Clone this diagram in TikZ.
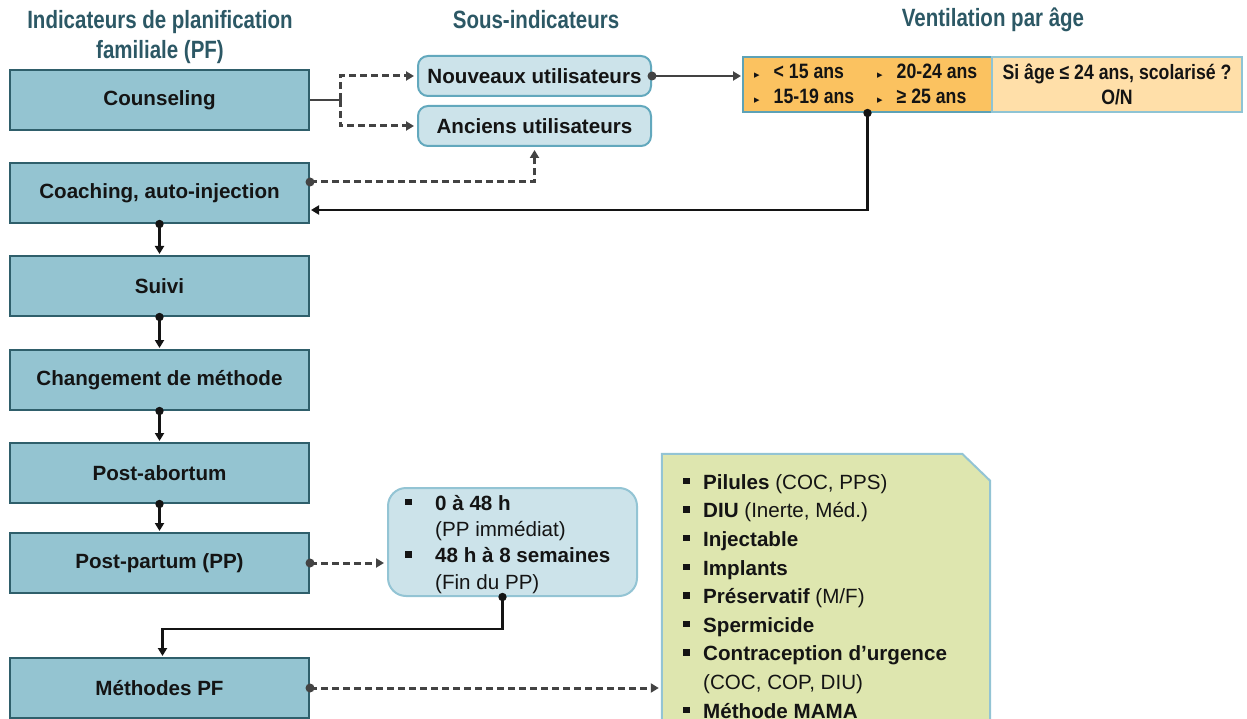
\documentclass[tikz,border=0pt]{standalone}
\usepackage{fontspec}
\setmainfont{Liberation Sans}
\newfontfamily\narrowfont{Liberation Sans}[FakeStretch=0.82]
\newfontfamily\agefont{Liberation Sans}[FakeStretch=0.85]
\newfontfamily\symfont{DejaVu Sans}
\usetikzlibrary{arrows.meta}

\definecolor{stepfill}{HTML}{94C4D1}
\definecolor{stepline}{HTML}{2F5F6B}
\definecolor{subfill}{HTML}{CCE3EA}
\definecolor{subline}{HTML}{62A8BD}
\definecolor{agefill}{HTML}{FBC260}
\definecolor{ageline}{HTML}{5DA2B6}
\definecolor{schoolfill}{HTML}{FFDFA9}
\definecolor{schoolline}{HTML}{8FC4D4}
\definecolor{methfill}{HTML}{DEE6AF}
\definecolor{methline}{HTML}{93C4D4}
\definecolor{headcol}{HTML}{2C5865}
\definecolor{linkgray}{HTML}{434343}
\definecolor{ink}{HTML}{141414}

\newcommand{\sqbullet}{\rule[5pt]{6.5pt}{6.5pt}}
\newcommand{\tribullet}{{\symfont\fontsize{11}{11}\selectfont ▸}}

\tikzset{
  header/.style={font={\narrowfont\bfseries\fontsize{25}{30}\selectfont}, text=headcol, align=center},
  stepbox/.style={draw=stepline, fill=stepfill, line width=2pt, minimum width=299pt,
    minimum height=60pt, inner sep=0pt, text=ink, font={\bfseries\fontsize{20.6}{24}\selectfont}},
  subbox/.style={draw=subline, fill=subfill, line width=2pt, rounded corners=10pt,
    minimum width=233pt, minimum height=40pt, inner sep=0pt, text=ink,
    font={\bfseries\fontsize{20.6}{24}\selectfont}},
  agetext/.style={inner sep=0pt, text=ink, font={\agefont\bfseries\fontsize{20.8}{25}\selectfont}},
  listtext/.style={inner sep=0pt, text=ink, align=left, font={\fontsize{20.6}{28.6}\selectfont}},
  dashlink/.style={draw=linkgray, line width=3pt, dash pattern=on 7pt off 4pt,
    -{Triangle[length=8pt,width=9pt]}, shorten >=3pt},
  solidlink/.style={draw=ink, line width=2.6pt, -{Triangle[length=8pt,width=9pt]}, shorten >=1pt},
  graylink/.style={draw=linkgray, line width=2.8pt, -{Triangle[length=8pt,width=9pt]}, shorten >=1pt},
}

\begin{document}
\begin{tikzpicture}[x=1pt,y=-1pt]
\useasboundingbox (0,0) rectangle (1247,719);
\clip (0,0) rectangle (1247,719);

% column headings
\node[header] (h1) at (160,37) {Indicateurs de planification\\familiale (PF)};
\node[header] (h2) at (536,20) {Sous-indicateurs};
\node[header] (h3) at (993,20) {Ventilation par âge};

% main indicator column
\node[stepbox] (couns) at (159.5,100) {Counseling};
\node[stepbox] (coach) at (159.5,193) {Coaching, auto-injection};
\node[stepbox] (suivi) at (159.5,286) {Suivi};
\node[stepbox] (chang) at (159.5,380) {Changement de méthode};
\node[stepbox] (abort) at (159.5,473) {Post-abortum};
\node[stepbox] (partum) at (159.5,563) {Post-partum (PP)};
\node[stepbox] (meth) at (159.5,688) {Méthodes PF};

% sub-indicators
\node[subbox] (nouv) at (534.5,76) {Nouveaux utilisateurs};
\node[subbox] (anc) at (534.5,126) {Anciens utilisateurs};

% age breakdown
\node[draw=ageline, fill=agefill, line width=2pt, minimum width=249pt, minimum height=55pt] (ages) at (867.5,84.5) {};
\node[draw=schoolline, fill=schoolfill, line width=2pt, minimum width=250pt, minimum height=55pt,
      agetext, align=center] (school) at (1117,84.5) {Si âge ≤ 24 ans, scolarisé ?\\O/N};
\node[agetext, anchor=base west] (a1) at (754,79) {\tribullet\hspace{14pt}< 15 ans};
\node[agetext, anchor=base west] (a2) at (754,104) {\tribullet\hspace{14pt}15-19 ans};
\node[agetext, anchor=base west] (a3) at (877,79) {\tribullet\hspace{14pt}20-24 ans};
\node[agetext, anchor=base west] (a4) at (877,104) {\tribullet\hspace{14pt}≥ 25 ans};

% post-partum periods
\node[draw=methline, fill=subfill, line width=2pt, rounded corners=18pt,
      minimum width=249pt, minimum height=108pt] (ppb) at (512.5,542) {};
\node[listtext, anchor=north west, font={\fontsize{20.6}{26.3}\selectfont}] (pptext) at (405,491.6)
  {\begin{tabular}{@{}l@{\hspace{23.5pt}}l@{}}
   \sqbullet & \textbf{0 à 48 h}\\
             & (PP immédiat)\\
   \sqbullet & \textbf{48 h à 8 semaines}\\
             & (Fin du PP)
   \end{tabular}};

% contraceptive methods: a box with its top right corner cut off
\node[minimum width=328pt, minimum height=290pt, inner sep=0pt] (methods) at (826,599) {};
\path[draw=methline, fill=methfill, line width=2pt]
  (methods.north west) -- ([xshift=-28pt]methods.north east)
  -- ([yshift=-27pt]methods.north east) -- (methods.south east)
  -- (methods.south west) -- cycle;
\node[listtext, anchor=north west] (mlist) at (683,469)
  {\begin{tabular}{@{}l@{\hspace{13.5pt}}l@{}}
   \sqbullet & \textbf{Pilules} (COC, PPS)\\
   \sqbullet & \textbf{DIU} (Inerte, Méd.)\\
   \sqbullet & \textbf{Injectable}\\
   \sqbullet & \textbf{Implants}\\
   \sqbullet & \textbf{Préservatif} (M/F)\\
   \sqbullet & \textbf{Spermicide}\\
   \sqbullet & \textbf{Contraception d’urgence}\\
             & (COC, COP, DIU)\\
   \sqbullet & \textbf{Méthode MAMA}
   \end{tabular}};

% counseling splits into new and former users
\coordinate (split) at (340,100);
\draw[draw=linkgray, line width=2.8pt] (couns.east) -- (split);
\draw[draw=linkgray, line width=2.8pt] ([yshift=5pt]split) -- ([yshift=-5pt]split);
\draw[dashlink] (split) |- (nouv.west);
\draw[dashlink] (split) |- (anc.west);

% coaching feeds former users
\draw[dashlink] ([yshift=11pt]coach.east) -| (anc.south);
\fill[linkgray] ([yshift=11pt]coach.east) circle (4.5pt);

% new users to age breakdown
\draw[graylink] (nouv.east) -- (nouv.east -| ages.west);
\fill[linkgray] (nouv.east) circle (4.5pt);

% age breakdown back to coaching
\draw[solidlink] (ages.south) |- ([yshift=-17pt]coach.east);
\fill[ink] (ages.south) circle (4.2pt);

% vertical chain
\foreach \a/\b in {coach/suivi, suivi/chang, chang/abort, abort/partum}{
  \draw[solidlink] (\a.south) -- (\b.north);
  \fill[ink] (\a.south) circle (4.2pt);
}

% post-partum periods
\draw[dashlink] (partum.east) -- (partum.east -| ppb.west);
\fill[linkgray] (partum.east) circle (4.5pt);
\draw[solidlink] ([xshift=-10pt]ppb.south) -- ++(0,32) -| ([xshift=3pt]meth.north);
\fill[ink] ([xshift=-10pt]ppb.south) circle (4.2pt);

% methods
\draw[dashlink] (meth.east) -- (meth.east -| methods.west);
\fill[linkgray] (meth.east) circle (4.5pt);
\end{tikzpicture}
\end{document}
